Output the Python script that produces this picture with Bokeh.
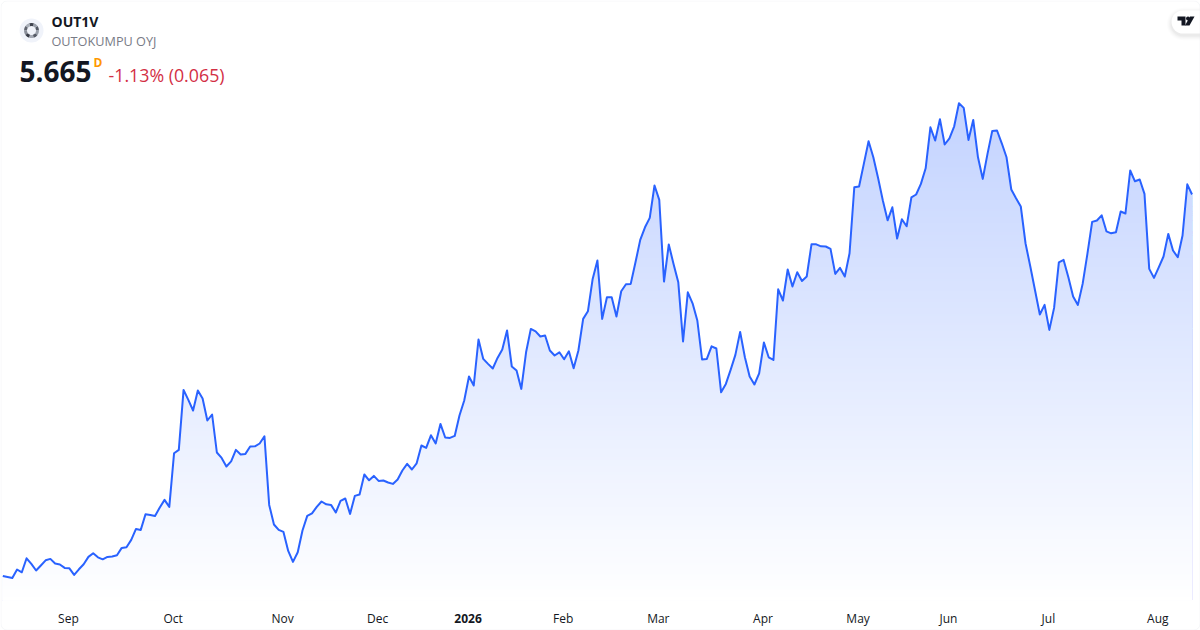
from bokeh.plotting import figure
from bokeh.embed import file_html
from bokeh.resources import INLINE
from bokeh.models import BoxAnnotation, ColumnDataSource, FixedTicker, Label, LinearAxis

# Closing prices, one per trading day (last = 5.665)
prices = [
3.758,3.753,3.748,3.790,3.776,3.846,3.818,3.785,3.810,3.836,3.843,3.820,3.815,3.798,3.796,3.763,
3.791,3.816,3.853,3.871,3.851,3.841,3.853,3.855,3.861,3.898,3.901,3.938,3.993,3.988,4.066,4.063,
4.058,4.100,4.138,4.103,4.371,4.388,4.688,4.638,4.585,4.685,4.645,4.535,4.565,4.375,4.348,4.305,
4.331,4.388,4.365,4.368,4.405,4.406,4.420,4.456,4.113,4.015,3.988,3.978,3.883,3.828,3.876,3.985,
4.058,4.071,4.103,4.130,4.116,4.113,4.075,4.133,4.145,4.068,4.158,4.165,4.265,4.236,4.258,4.233,
4.235,4.225,4.218,4.240,4.285,4.318,4.290,4.321,4.410,4.398,4.461,4.420,4.518,4.450,4.448,4.458,
4.560,4.635,4.755,4.710,4.940,4.843,4.818,4.795,4.848,4.890,4.985,4.805,4.785,4.693,4.876,4.993,
4.981,4.955,4.960,4.885,4.860,4.876,4.841,4.881,4.796,4.885,5.043,5.081,5.243,5.335,5.043,5.151,
5.151,5.055,5.181,5.216,5.218,5.326,5.438,5.501,5.548,5.710,5.638,5.230,5.415,5.318,5.226,4.930,
5.176,5.121,5.035,4.840,4.843,4.906,4.895,4.676,4.718,4.788,4.863,4.978,4.851,4.755,4.715,4.771,
4.925,4.851,4.838,5.191,5.135,5.290,5.205,5.276,5.233,5.255,5.416,5.416,5.406,5.405,5.393,5.268,
5.298,5.255,5.371,5.701,5.705,5.818,5.931,5.851,5.748,5.635,5.536,5.601,5.445,5.541,5.506,5.651,
5.665,5.718,5.796,6.001,5.935,6.041,5.915,5.946,6.006,6.121,6.098,5.938,6.038,5.851,5.743,5.868,
5.983,5.985,5.921,5.851,5.690,5.646,5.605,5.420,5.305,5.185,5.065,5.113,4.988,5.098,5.326,5.338,
5.251,5.155,5.113,5.218,5.368,5.528,5.535,5.561,5.481,5.471,5.476,5.580,5.570,5.785,5.731,5.740,
5.668,5.293,5.248,5.301,5.355,5.468,5.385,5.351,5.460,5.716,5.665,
]

# Month labels and the trading-day number each of them falls on
tick_days = [14, 36, 59, 79, 98, 118, 138, 160, 180, 199, 220, 243]
tick_labels = ["Sep", "Oct", "Nov", "Dec", "2026", "Feb", "Mar", "Apr", "May", "Jun", "Jul", "Aug"]

symbol = "OUT1V"
company = "OUTOKUMPU OYJ"
last_price = "5.665"
interval = "D"
change = "-1.13% (0.065)"

W, H, PLOT_BOTTOM = 1200, 630, 600
LINE = "#2962FF"
FONT = "Open Sans"

# frame pixels <-> data
X0, DX = 2.3, 4.757
PRICE_AT_TOP, PRICE_PER_PX = 6.635, 0.005
def xd(px): return (px - X0) / DX
def yd(py): return PRICE_AT_TOP - py * PRICE_PER_PX

p = figure(width=W, height=H, output_backend="svg", toolbar_location=None,
           x_range=(xd(0), xd(W)), y_range=(yd(H), yd(0)),
           min_border_left=0, min_border_right=0, min_border_top=0, min_border_bottom=0,
           outline_line_color=None, background_fill_color="white", border_fill_color="white")
p.grid.visible = False
p.yaxis.visible = False

days = list(range(len(prices)))

# Vertical gradient: opaque bands painted from the top of the data downward
base = yd(PLOT_BOTTOM)
top_price, n_bands = max(prices), 170
for k in range(n_bands):
    t = 1 - k / n_bands                    # 1 at the top, 0 at the bottom
    level = base + (top_price - base) * t
    alpha = 0.28 * t
    col = tuple(round(255 + (c - 255) * alpha) for c in (41, 98, 255))
    p.varea(x=days, y1=[base] * len(days), y2=[min(v, level) for v in prices],
            fill_color="#%02x%02x%02x" % col, fill_alpha=1.0)

src = ColumnDataSource(dict(day=days, price=prices))
p.line("day", "price", source=src, line_color=LINE, line_width=2, line_join="round")

# Axes: the regular month labels, and a second axis for the bold year label
tick_pos = [d - 0.2 for d in tick_days]

def style_axis(axis, ticks, labels, bold=False, standoff=9):
    axis.ticker = FixedTicker(ticks=ticks)
    axis.major_label_overrides = dict(zip(ticks, labels))
    axis.fixed_location = base
    axis.axis_line_color = None
    axis.major_tick_line_color = None
    axis.minor_tick_line_color = None
    axis.major_tick_out = 0
    axis.major_tick_in = 0
    axis.minor_tick_out = 0
    axis.major_label_text_font = FONT
    axis.major_label_text_font_size = "12px"
    axis.major_label_text_font_style = "bold" if bold else "normal"
    axis.major_label_text_color = "#131722"
    axis.major_label_standoff = standoff

months = [(d, t) for d, t in zip(tick_pos, tick_labels) if t != "2026"]
years = [(d, t) for d, t in zip(tick_pos, tick_labels) if t == "2026"]
style_axis(p.xaxis[0], [d for d, _ in months], [t for _, t in months])
year_axis = LinearAxis()
style_axis(year_axis, [d for d, _ in years], [t for _, t in years], bold=True, standoff=13)
p.add_layout(year_axis, "below")

def cap(x, y, text, size, color, style="normal", align="left"):
    p.add_layout(Label(x=x, y=y, x_units="canvas", y_units="canvas", text=text, text_font=FONT,
                       text_font_size=size, text_color=color, text_font_style=style,
                       text_align=align, text_baseline="middle"))

cap(51, 21, symbol, "14px", "#131722", "bold")
cap(51, 40, company, "12.7px", "#787B86")
cap(19, 71, last_price, "28px", "#131722", "bold")
cap(93, 62, interval, "12px", "#FF9800", "bold")
cap(108, 74, change, "17.8px", "#D32F45")

# Symbol badge
p.circle(x=[xd(31)], y=[yd(30)], radius=12, radius_units="screen", fill_color="#F0F3FA", line_color=None)
n = 10
shades = ["#555a66", "#9aa0ab", "#40444f", "#aab0ba", "#60646f", "#8a8f9a", "#383c47", "#a5aab5", "#555a66", "#9aa0ab"]
step = 6.28318 / n
p.annular_wedge(x=[xd(31)] * n, y=[yd(30)] * n, inner_radius=4.5, outer_radius=7.5,
                inner_radius_units="screen", outer_radius_units="screen",
                start_angle=[i * step for i in range(n)], end_angle=[(i + 1) * step for i in range(n)],
                fill_color=shades, line_color=None)

# Watermark pill with soft shadow
for grow, a in [(5, .008), (4, .012), (3, .015), (2, .02), (1, .025)]:
    p.add_layout(BoxAnnotation(left=1171 - grow, right=1215, top=10 - grow + 2, bottom=33 + grow + 2,
                               left_units="canvas", right_units="canvas", top_units="canvas", bottom_units="canvas",
                               fill_color="black", fill_alpha=a, line_alpha=0, border_radius=12 + grow,
                               level="underlay"))
p.add_layout(BoxAnnotation(left=1171, right=1215, top=10, bottom=33,
                           left_units="canvas", right_units="canvas", top_units="canvas", bottom_units="canvas",
                           fill_color="white", fill_alpha=1, line_alpha=0, border_radius=12,
                           level="underlay"))
logo_xs = [[1177, 1185, 1185, 1181, 1181, 1177], [1189.5, 1194, 1189, 1184.5]]
logo_ys = [[16, 16, 25, 25, 20, 20], [16, 16, 25, 25]]
p.patches(xs=[[xd(v) for v in r] for r in logo_xs], ys=[[yd(v) for v in r] for r in logo_ys],
          fill_color="#131722", line_color=None)
p.circle(x=[xd(1187.5)], y=[yd(18)], radius=2, radius_units="screen", fill_color="#131722", line_color=None)

# Card border
p.add_layout(BoxAnnotation(left=0.5, right=W - 0.5, top=0.5, bottom=H - 0.5,
                           left_units="canvas", right_units="canvas", top_units="canvas", bottom_units="canvas",
                           fill_alpha=0, line_color="#E0E3EB", line_width=1, border_radius=6))

open("out.html", "w").write(file_html(p, INLINE))
